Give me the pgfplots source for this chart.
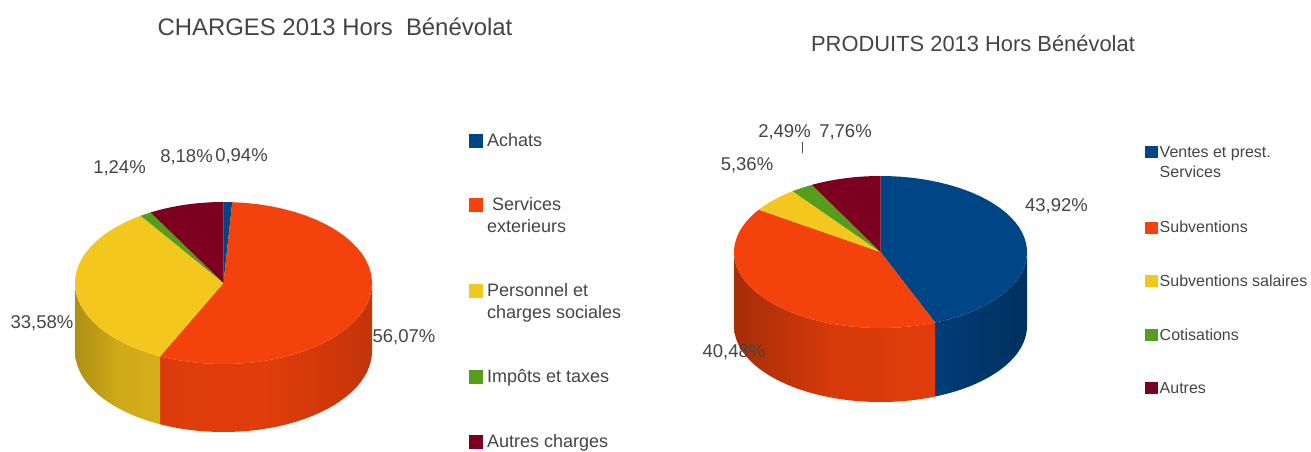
\documentclass[border=0pt]{standalone}
\usepackage{fontspec}
\setmainfont{Liberation Sans}
\usepackage{pgfplots}
\pgfplotsset{compat=1.18}
\usepackage{xcolor}
\definecolor{cblue}{HTML}{004586}
\definecolor{corange}{HTML}{F4420C}
\definecolor{cyellow}{HTML}{F3C71E}
\definecolor{cgreen}{HTML}{579D1C}
\definecolor{cmaroon}{HTML}{7E0021}
\definecolor{txt}{HTML}{444444}

% pie geometry, in pixels of the reference: \cx \cy \rx \ry \depth
\newcommand{\setpie}[5]{\def\cx{#1}\def\cy{#2}\def\rx{#3}\def\ry{#4}\def\depth{#5}\gdef\piestart{0}}

% top face of one slice, value in percent, clockwise from 12 o'clock
\newcommand{\pieslice}[3]{%
  \pgfmathsetmacro\pieend{\piestart+#1}%
  \xdef\coords{(\cx,\cy)}%
  \foreach \i in {0,...,40}{%
    \pgfmathsetmacro\a{3.6*(\piestart+(\pieend-\piestart)*\i/40)}%
    \pgfmathsetmacro\px{\cx+\rx*sin(\a)}%
    \pgfmathsetmacro\py{\cy-\ry*cos(\a)}%
    \xdef\coords{\coords (\px,\py)}%
  }%
  \edef\tmp{\noexpand\addplot[draw=none,fill=#2] coordinates {\coords};}\tmp
  \addlegendentry{#3}%
  \xdef\piestart{\pieend}%
}

% visible side wall between two percent positions
\newcommand{\pieside}[3]{%
  \xdef\coords{}%
  \foreach \i in {0,...,40}{%
    \pgfmathsetmacro\a{3.6*(#1+(#2-#1)*\i/40)}%
    \pgfmathsetmacro\px{\cx+\rx*sin(\a)}%
    \pgfmathsetmacro\py{\cy-\ry*cos(\a)}%
    \xdef\coords{\coords (\px,\py)}%
  }%
  \foreach \i in {40,39,...,0}{%
    \pgfmathsetmacro\a{3.6*(#1+(#2-#1)*\i/40)}%
    \pgfmathsetmacro\px{\cx+\rx*sin(\a)}%
    \pgfmathsetmacro\py{\cy-\ry*cos(\a)+\depth}%
    \xdef\coords{\coords (\px,\py)}%
  }%
  \edef\tmp{\noexpand\addplot[forget plot,draw=none,#3] coordinates {\coords};}\tmp
}

% legend rows take their height from the image, so two-line rows get a taller one
\pgfplotsset{
  piechart/.style={
    scale only axis, hide axis, clip=false,
    height=451pt, ymin=0, ymax=451, y dir=reverse,
  },
  swatchL/.style={legend image code/.code={\fill[##1] (0pt,-1.5pt) rectangle (14pt,12.5pt);}},
  swatchLtwo/.style={legend image code/.code={\fill[##1] (0pt,-1.5pt) rectangle (14pt,12.5pt); \path[fill=none,draw=none] (0pt,-23pt) -- (0pt,0pt);}},
  swatchR/.style={legend image code/.code={\fill[##1] (0pt,-1pt) rectangle (12.5pt,11pt);}},
  swatchRtwo/.style={legend image code/.code={\fill[##1] (0pt,-1pt) rectangle (12.5pt,11pt); \path[fill=none,draw=none] (0pt,-23pt) -- (0pt,0pt);}},
}

\begin{document}
\begin{tikzpicture}
\path[use as bounding box] (0,0) rectangle (1311pt,451pt);

\begin{axis}[piechart, swatchL,
  at={(0pt,0pt)}, width=655pt, xmin=0, xmax=655,
  legend style={at={(axis cs:469,133)}, anchor=north west, draw=none, fill=none,
    inner sep=0pt, row sep=50pt, font=\fontsize{18}{21.5}\selectfont\color{txt},
    cells={anchor=base west},
    nodes={inner xsep=4pt, inner ysep=0pt}},
]
  \setpie{223.5}{283}{148.5}{81}{68}
  \pieside{25}{57.01}{left color=corange!90!black, right color=corange!80!black, middle color=corange!92!black}
  \pieside{57.01}{75}{left color=cyellow!72!black, right color=cyellow!88!black, middle color=cyellow!85!black}
  \pieslice{0.94}{cblue}{Achats}
  \pieslice{56.07}{corange,swatchLtwo}{\parbox[t]{150pt}{\hspace*{5pt}Services\\exterieurs}}
  \pieslice{33.58}{cyellow,swatchLtwo}{\parbox[t]{150pt}{Personnel et\\charges sociales}}
  \pieslice{1.24}{cgreen}{Impôts et taxes}
  \pieslice{8.18}{cmaroon}{Autres charges}
  \node[text=txt,font=\fontsize{23.9}{26}\selectfont] at (axis cs:335,27) {CHARGES 2013 Hors\ \ Bénévolat};
  \begin{scope}[every node/.style={text=txt,font=\fontsize{18.5}{20}\selectfont}]
    \node at (axis cs:186.5,157) {8,18\%};
    \node at (axis cs:241.5,156) {0,94\%};
    \node at (axis cs:119.5,168) {1,24\%};
    \node at (axis cs:42,323) {33,58\%};
    \node at (axis cs:404,337) {56,07\%};
  \end{scope}
\end{axis}

\begin{axis}[piechart, swatchR,
  at={(655pt,0pt)}, width=656pt, xmin=655, xmax=1311,
  legend style={at={(axis cs:1145,146)}, anchor=north west, draw=none, fill=none,
    inner sep=0pt, row sep=40.7pt, font=\fontsize{16}{20}\selectfont\color{txt},
    cells={anchor=base west},
    nodes={inner xsep=2pt, inner ysep=0pt}},
]
  \setpie{880.5}{252}{146.5}{76}{74}
  \pieside{25}{43.92}{left color=cblue!88!black, right color=cblue!72!black}
  \pieside{43.92}{75}{left color=corange!68!black, right color=corange!92!black, middle color=corange!88!black}
  \pieslice{43.92}{cblue,swatchRtwo}{\parbox[t]{150pt}{Ventes et prest.\\Services}}
  \pieslice{40.48}{corange}{Subventions}
  \pieslice{5.36}{cyellow}{Subventions salaires}
  \pieslice{2.49}{cgreen}{Cotisations}
  \pieslice{7.76}{cmaroon}{Autres}
  \addplot[forget plot,black!70,line width=0.8pt] coordinates {(802,142) (802,153)};
  \node[text=txt,font=\fontsize{21.9}{24}\selectfont] at (axis cs:973,44) {PRODUITS 2013 Hors Bénévolat};
  \begin{scope}[every node/.style={text=txt,font=\fontsize{18.5}{20}\selectfont}]
    \node at (axis cs:784.5,132) {2,49\%};
    \node at (axis cs:845.5,132) {7,76\%};
    \node at (axis cs:747,165) {5,36\%};
    \node at (axis cs:1056.5,206) {43,92\%};
    \node at (axis cs:734,352) {40,48\%};
  \end{scope}
\end{axis}
\end{tikzpicture}
\end{document}
